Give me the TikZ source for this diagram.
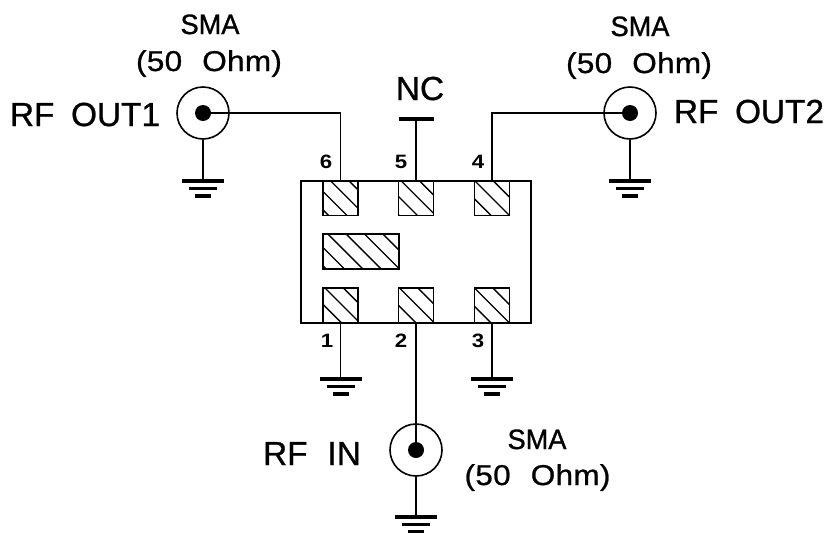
\documentclass[tikz,border=0pt]{standalone}
\usepackage{fontspec}
\setmainfont{Liberation Sans}
\newfontfamily\bigfont[FakeBold=0.8]{Liberation Sans}
\newfontfamily\smafont[FakeBold=1,FakeStretch=0.97]{Liberation Sans}
\newfontfamily\ohmfont[FakeStretch=1.1,FakeBold=0.8,LetterSpace=1]{Liberation Sans}
\newfontfamily\pinfont[FakeStretch=1.15]{Liberation Sans Bold}
\tikzset{
  x=0.75pt,y=-0.75pt,
  wire/.style={line width=1.2pt,draw=black},
  bodybox/.style={draw=black,line width=1.5pt,minimum width=172.5pt,minimum height=106.5pt,inner sep=0pt,fill=white},
  hatched/.style={draw=black,line width=1.2pt,inner sep=0pt,
    path picture={
      \foreach \k in {-5,...,6}
        \draw[line width=1pt] ([xshift=#1*0.75pt+\k*13.75pt]path picture bounding box.north west) -- ++(120,120);
    }},
  pad/.style={hatched=#1,minimum width=26pt,minimum height=26pt},
  widepad/.style={hatched=#1,minimum width=57pt,minimum height=26pt},
  coax/.style={circle,draw=black,line width=1.2pt,minimum size=39pt,inner sep=0pt},
  centre/.style={circle,fill=black,minimum size=12pt,inner sep=0pt},
  big/.style={font=\bigfont\fontsize{25}{27}\selectfont,inner sep=0pt,anchor=base},
  small/.style={font=\smafont\fontsize{21}{23}\selectfont,inner sep=0pt,anchor=base},
  ohm/.style={font=\ohmfont\fontsize{21.5}{23}\selectfont,inner sep=0pt,anchor=base},
  pinnum/.style={font=\pinfont\fontsize{14.5}{16}\selectfont,inner sep=0pt,anchor=base},
  gndbar/.style={line width=2.4pt,draw=black},
  gnd/.pic={
    \draw[gndbar] (-21,0) -- (21,0);
    \draw[gndbar] (-14,7.5) -- (14,7.5);
    \draw[gndbar] (-8,15) -- (8,15);
  }
}
\begin{document}
\begin{tikzpicture}
\useasboundingbox (0,0) rectangle (830,532);
\fill[white] (0,0) rectangle (830,532);
% body and pads
\node[bodybox] (body) at (416,252) {};
\node[pad=7.3] (p6) at (340.5,198) {};
\node[pad=2.3] (p5) at (416,198) {};
\node[pad=0] (p4) at (492,198) {};
\node[pad=2] (p1) at (340.5,305.5) {};
\node[pad=1] (p2) at (416,305.5) {};
\node[pad=0] (p3) at (492,305.5) {};
\node[widepad=5] (pm) at (361,251.5) {};
% connectors
\node[coax] (c1) at (203,113) {};
\node[coax] (c2) at (630,113) {};
\node[coax] (c3) at (416,450) {};
\node[centre] (d1) at (c1) {};
\node[centre] (d2) at (c2) {};
\node[centre] (d3) at (c3) {};
% free ends
\coordinate (g1) at (203,181);
\coordinate (g2) at (630,181);
\coordinate (g3) at (416,517);
\coordinate (gp1) at (340.5,379);
\coordinate (gp3) at (492,379);
\coordinate (nc) at (416,119);
\coordinate (ncl) at (399,119);
\coordinate (ncr) at (434,119);
\coordinate (t6) at (340.5,181);
\coordinate (t5) at (416,181);
\coordinate (t4) at (492,181);
\coordinate (b1) at (340.5,323);
\coordinate (b2) at (416,323);
\coordinate (b3) at (492,323);
% wiring
\draw[wire] (d1.center) -| (t6);
\draw[wire] (d2.center) -| (t4);
\draw[wire] (t5) -- (nc);
\draw[gndbar] (ncl) -- (ncr);
\draw[wire] (b2) -- (d3.center);
\draw[wire] (c1.south) -- (g1);
\draw[wire] (c2.south) -- (g2);
\draw[wire] (c3.south) -- (g3);
\draw[wire] (b1) -- (gp1);
\draw[wire] (b3) -- (gp3);
\pic at (g1) {gnd};
\pic at (g2) {gnd};
\pic at (g3) {gnd};
\pic at (gp1) {gnd};
\pic at (gp3) {gnd};
% labels
\node[big] (t1) at (85,126) {RF\hspace{0.5em}OUT1};
\node[big] (t2) at (749,123) {RF\hspace{0.5em}OUT2};
\node[big] (t3) at (312,465) {RF\hspace{0.6em}IN};
\node[big] (tnc) at (420,100) {NC};
\node[small] (s1) at (210,34) {SMA};
\node[ohm] (o1) at (209,71) {(50\hspace{0.7em}Ohm)};
\node[small] (s2) at (640,36) {SMA};
\node[ohm] (o2) at (639,73) {(50\hspace{0.7em}Ohm)};
\node[small] (s3) at (537,449) {SMA};
\node[ohm] (o3) at (537.5,485) {(50\hspace{0.7em}Ohm)};
\node[pinnum] (n6) at (326,168) {6};
\node[pinnum] (n5) at (401,168) {5};
\node[pinnum] (n4) at (478,168) {4};
\node[pinnum] (n1) at (327,347) {1};
\node[pinnum] (n2) at (401,347) {2};
\node[pinnum] (n3) at (478,347) {3};
\end{tikzpicture}
\end{document}
